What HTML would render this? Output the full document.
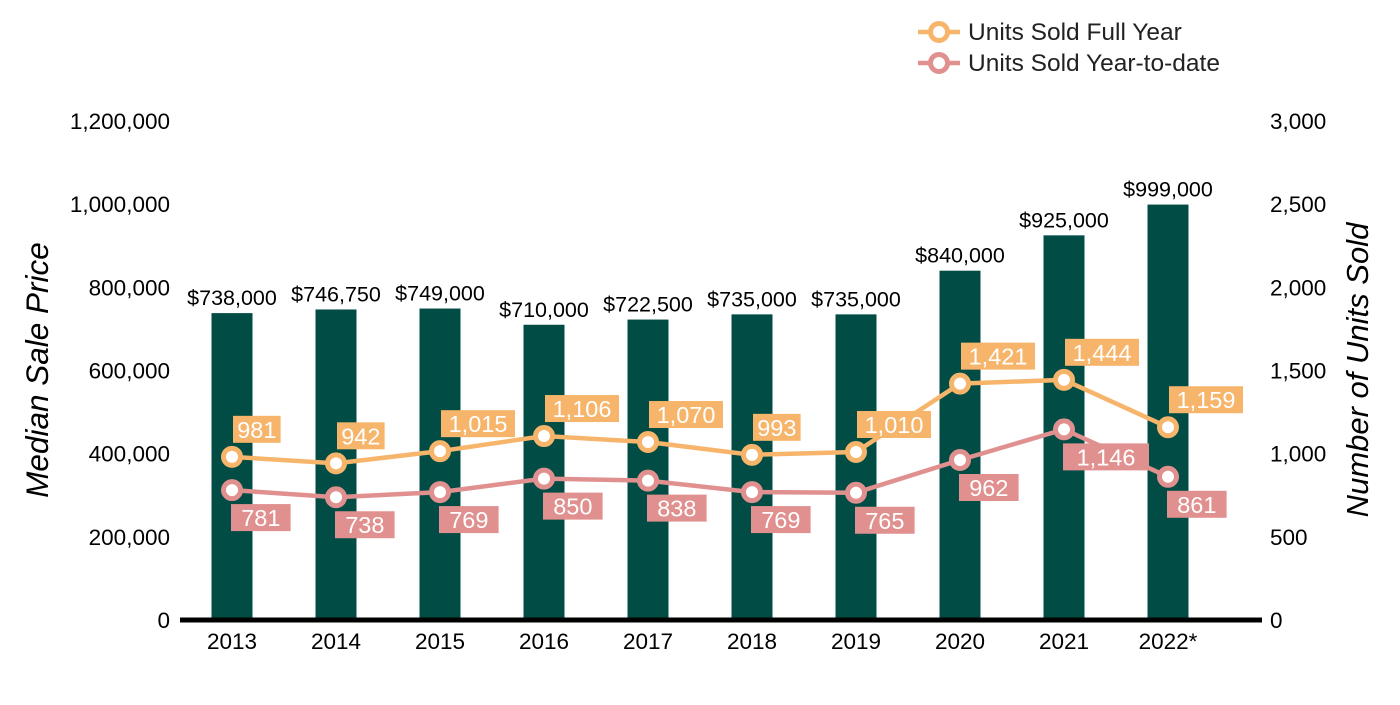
<!DOCTYPE html>
<html><head><meta charset="utf-8"><style>
body{margin:0;background:#fff;}
svg text{font-family:"Liberation Sans",Arial,sans-serif;}
</style></head><body>
<svg id="chart" width="1400" height="700"></svg>
<script>
const years=["2013","2014","2015","2016","2017","2018","2019","2020","2021","2022*"];
const prices=[738000,746750,749000,710000,722500,735000,735000,840000,925000,999000];
const priceLabels=["$738,000","$746,750","$749,000","$710,000","$722,500","$735,000","$735,000","$840,000","$925,000","$999,000"];
const fullYear=[981,942,1015,1106,1070,993,1010,1421,1444,1159];
const ytd=[781,738,769,850,838,769,765,962,1146,861];
const leftTicks=[0,200000,400000,600000,800000,1000000,1200000];
const rightTicks=[0,500,1000,1500,2000,2500,3000];
const NS="http://www.w3.org/2000/svg";
const svg=document.getElementById('chart');
const y0=620,yTop=121;
const yL=v=>y0-(v/1200000)*(y0-yTop);
const yR=v=>y0-(v/3000)*(y0-yTop);
const xC=i=>232+i*104;
const fmt=n=>n.toLocaleString('en-US');
function mk(t,a,p){const e=document.createElementNS(NS,t);for(const k in a)e.setAttribute(k,a[k]);(p||svg).appendChild(e);return e;}
function txt(x,y,s,size,anchor,fill,extra){const e=mk('text',Object.assign({x:x,y:y,'font-size':size,'text-anchor':anchor,fill:fill},extra||{}));e.textContent=s;return e;}
leftTicks.forEach(v=>{const t=txt(170,yL(v)+8,fmt(v),22.5,'end','#000');

});
rightTicks.forEach(v=>{const t=txt(1270,yR(v)+8,fmt(v),22.5,'start','#000');

});
let t1=txt(0,0,'Median Sale Price',31.5,'middle','#000',{'font-style':'italic',transform:'translate(48,370) rotate(-90)'});


let t2=txt(0,0,'Number of Units Sold',31,'middle','#000',{'font-style':'italic',transform:'translate(1368,370) rotate(-90)'});


prices.forEach((v,i)=>{const r=mk('rect',{x:xC(i)-20.5,y:yL(v),width:41,height:y0-yL(v),fill:'#014c44'});


const l=txt(xC(i),yL(v)-8,priceLabels[i],21.5,'middle','#000');

});
const ax=mk('line',{x1:180,x2:1262,y1:620,y2:620,stroke:'#000','stroke-width':5});


years.forEach((y,i)=>{const t=txt(xC(i),649,y,22.5,'middle','#000');

});
function series(vals,color,name,above){
 const pts=vals.map((v,i)=>xC(i)+','+yR(v)).join(' ');
 const pl=mk('polyline',{points:pts,fill:'none',stroke:color,'stroke-width':4.5});
 
 
 vals.forEach((v,i)=>{
  const c=mk('circle',{cx:xC(i),cy:yR(v),r:8.5,fill:'#fff',stroke:color,'stroke-width':5});
  
  
  const s=fmt(v);const w=s.length*13.2+(above?8:20);
  const bx=xC(i)+(above?1:-1);const by=above?yR(v)-41:yR(v)+14;
  const b=mk('rect',{x:bx,y:by,width:w,height:27,fill:color});
  
  
  const t=txt(bx+w/2,by+22,s,23.5,'middle','#fff');
  
  
 });
}
series(ytd,'#e0908e','units-ytd',false);
series(fullYear,'#f6b56a','units-full-year',true);
[['Units Sold Full Year','#f6b56a',32],['Units Sold Year-to-date','#e0908e',63]].forEach(([s,c,y])=>{
 const g=mk('g',{});
 
 
 mk('line',{x1:918,x2:960,y1:y,y2:y,stroke:c,'stroke-width':4.5},g);
 mk('circle',{cx:939,cy:y,r:8.5,fill:'#fff',stroke:c,'stroke-width':5},g);
 const t=txt(968,y+8,s,24.5,'start','#222');g.appendChild(t);
});
</script>
</body></html>
